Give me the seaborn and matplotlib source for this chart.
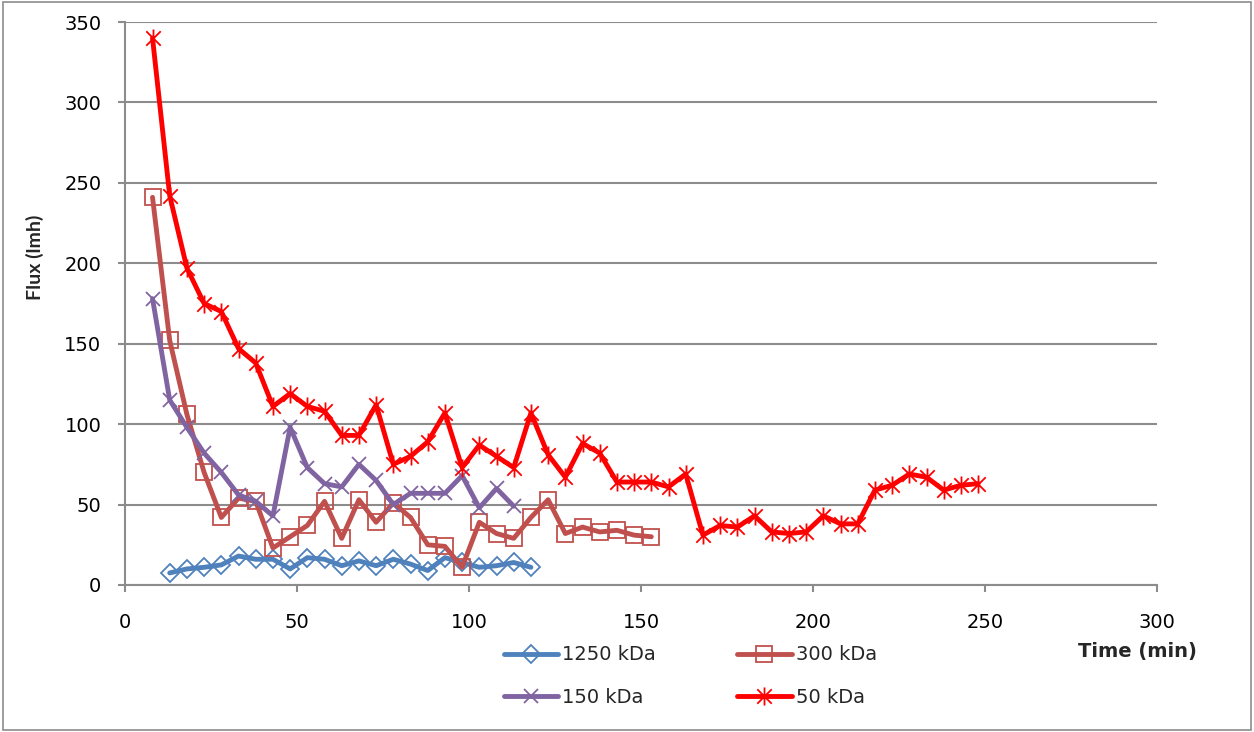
import numpy as np
import pandas as pd
import matplotlib
matplotlib.use("Agg")
import matplotlib.pyplot as plt
import seaborn as sns
from matplotlib.path import Path
from matplotlib.patches import Rectangle

# time (min) for each series
time_1250 = [13, 18, 23, 28, 33, 38, 43, 48, 53, 58, 63, 68, 73, 78, 83, 88, 93, 98, 103, 108, 113, 118]
flux_1250 = [7.5, 10, 11, 12.5, 18, 16, 16, 10, 17, 16, 12, 15, 12, 16, 13, 9, 17, 14, 11, 12, 14, 11]

time_300 = [8, 13, 18, 23, 28, 33, 38, 43, 48, 53, 58, 63, 68, 73, 78, 83, 88, 93, 98, 103,
            108, 113, 118, 123, 128, 133, 138, 143, 148, 153]
flux_300 = [241, 152, 106, 70, 42, 54, 52, 23, 30, 37, 52, 29, 53, 39, 51, 42, 25, 24, 11, 39,
            32, 29, 42, 53, 32, 36, 33, 34, 31, 30]

time_150 = [8, 13, 18, 23, 28, 33, 38, 43, 48, 53, 58, 63, 68, 73, 78, 83, 88, 93, 98, 103, 108, 113]
flux_150 = [178, 115, 98, 82, 70, 56, 52, 43, 98, 73, 63, 61, 75, 65, 50, 57, 57, 57, 68, 48, 60, 49]

time_50 = [8, 13, 18, 23, 28, 33, 38, 43, 48, 53, 58, 63, 68, 73, 78, 83, 88, 93, 98, 103,
           108, 113, 118, 123, 128, 133, 138, 143, 148, 153, 158, 163, 168, 173, 178, 183, 188,
           193, 198, 203, 208, 213, 218, 223, 228, 233, 238, 243, 248]
flux_50 = [340, 242, 197, 175, 170, 147, 138, 111, 119, 111, 108, 93, 93, 112, 75, 80, 89, 107, 73, 87,
           80, 73, 107, 81, 67, 88, 82, 64, 64, 64, 61, 69, 31, 37, 36, 43, 33,
           32, 33, 43, 38, 38, 59, 62, 69, 67, 59, 62, 63]

labels = ["1250 kDa", "300 kDa", "150 kDa", "50 kDa"]
colors = ["#4F81BD", "#C0504D", "#8064A2", "#FF0000"]

sns.set_style("white")
plt.rcParams["font.family"] = ["DejaVu Sans"]

# excel style asterisk: an X with a vertical bar
star = Path([(-1, -1), (1, 1), (-1, 1), (1, -1), (0, -1.25), (0, 1.25)],
            [Path.MOVETO, Path.LINETO, Path.MOVETO, Path.LINETO, Path.MOVETO, Path.LINETO])

fig = plt.figure(figsize=(12.54, 7.32), dpi=100)
ax = fig.add_axes([125 / 1254, 147 / 732, 1032 / 1254, 563 / 732])

series = [
    (time_1250, flux_1250, "D", 9.5, "none"),
    (time_300, flux_300, "s", 11, "none"),
    (time_150, flux_150, "x", 10.5, None),
    (time_50, flux_50, star, 13, None),
]
for (t, f, mk, ms, fc), lab, col in zip(series, labels, colors):
    df = pd.DataFrame({"Time": t, "Flux": f})
    kw = dict(marker=mk, markersize=ms, markeredgecolor=col, markeredgewidth=1.3)
    if fc is not None:
        kw["markerfacecolor"] = fc
    sns.lineplot(data=df, x="Time", y="Flux", ax=ax, color=col, linewidth=3.5,
                 label=lab, legend=False, **kw)

ax.set_xlim(0, 300)
ax.set_ylim(0, 350)
ax.set_xticks(np.arange(0, 301, 50))
ax.set_yticks(np.arange(0, 351, 50))
ax.set_xlabel("")
ax.set_ylabel("")
ax.yaxis.grid(True, color="#8C8C8C", linewidth=1.5)
ax.set_axisbelow(True)
for s in ["top", "right"]:
    ax.spines[s].set_visible(False)
for s in ["left", "bottom"]:
    ax.spines[s].set_color("#8C8C8C")
    ax.spines[s].set_linewidth(1.5)
ax.tick_params(axis="both", which="major", direction="out", length=5, width=1.5,
               color="#8C8C8C", labelsize=14, labelcolor="black")
ax.tick_params(axis="y", pad=12, left=True)
ax.tick_params(axis="x", pad=15, bottom=True)

fig.text(35 / 1254, 1 - 257 / 732, "Flux (lmh)", rotation=90, ha="center", va="center",
         fontsize=14, fontweight="bold", family=["Lato", "DejaVu Sans"])
fig.text(1137 / 1254, 1 - 652 / 732, "Time (min)", ha="center", va="center",
         fontsize=14, fontweight="bold")

lines = ax.get_lines()
order = [0, 2, 1, 3]
fig.legend([lines[i] for i in order], [labels[i] for i in order], ncol=2,
           loc="upper left", bbox_to_anchor=(486 / 1254, 1 - 628 / 732), frameon=False,
           fontsize=14, handlelength=2.8, handletextpad=0.2, columnspacing=4.2,
           labelspacing=1.2)

fig.patches.append(Rectangle((0.002, 0.003), 0.996, 0.994, transform=fig.transFigure,
                             fill=False, edgecolor="#8C8C8C", linewidth=1.2))

fig.savefig("out.png", dpi=100)
